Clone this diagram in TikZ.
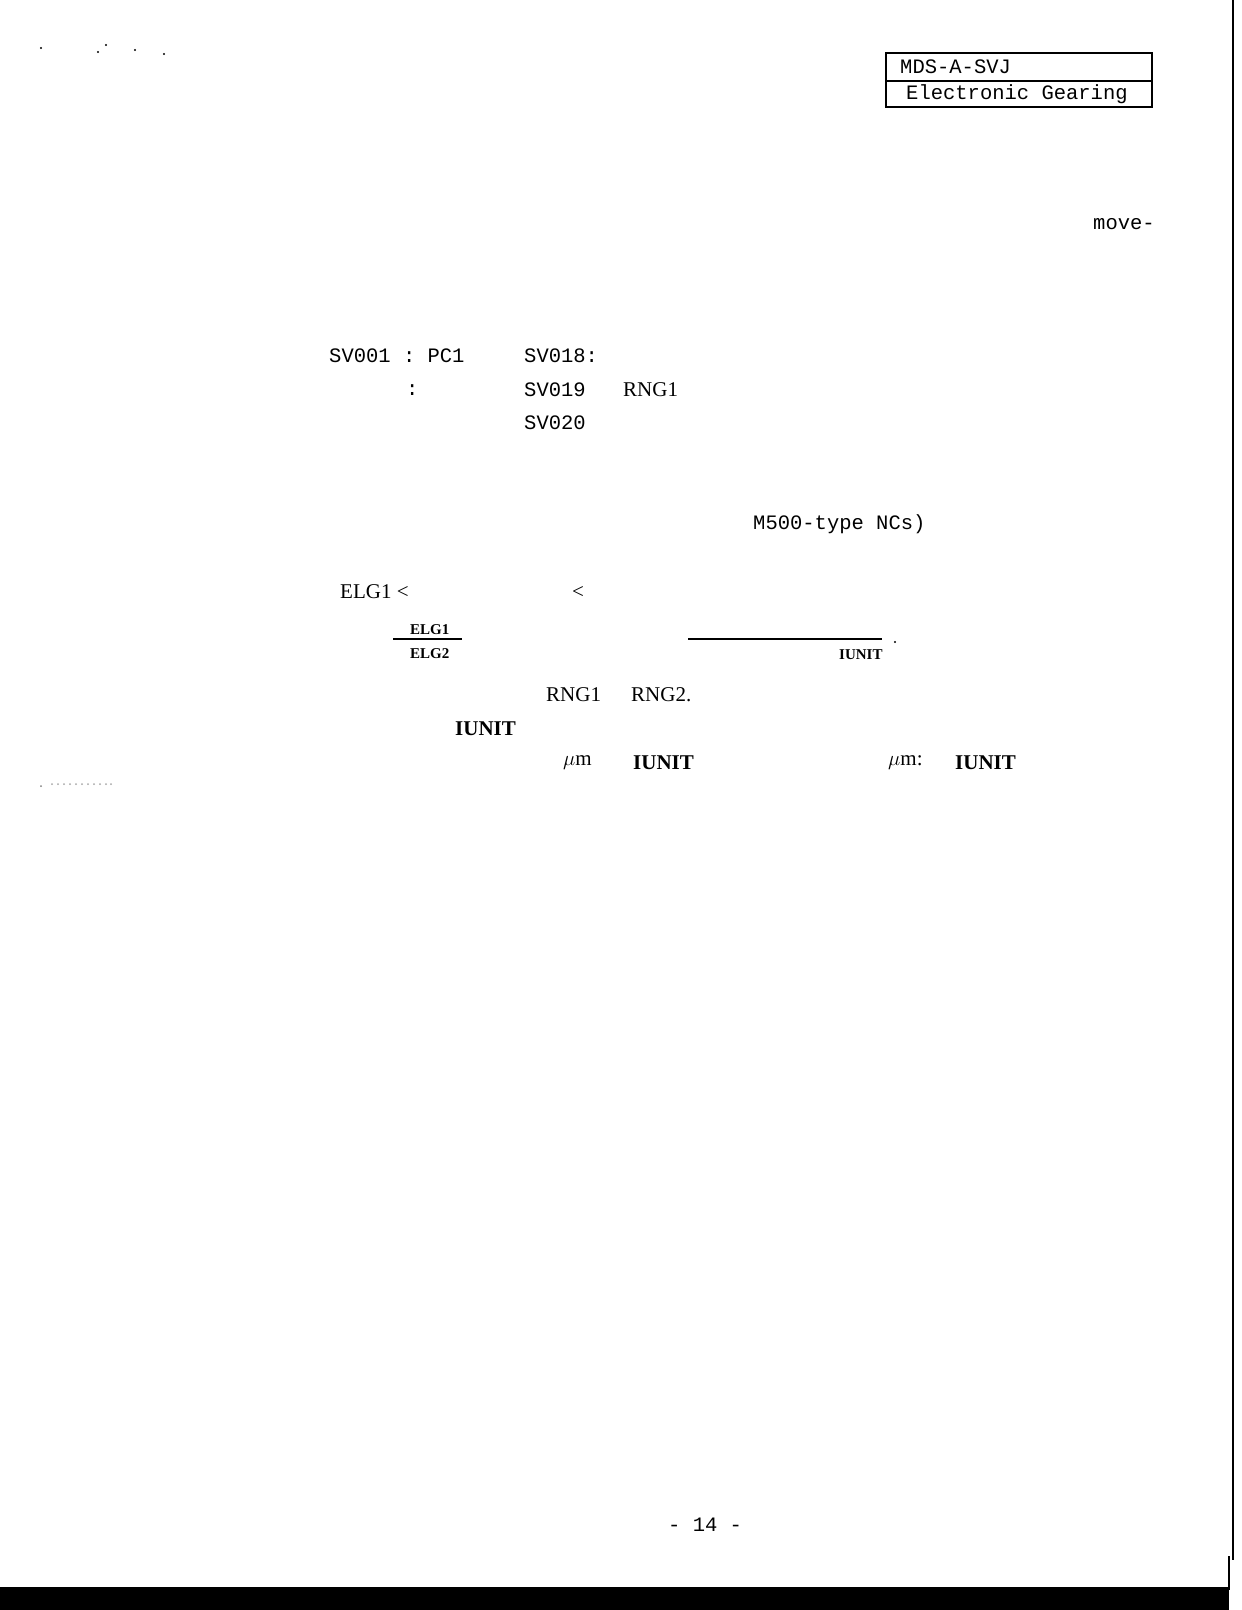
\documentclass[tikz,border=0pt]{standalone}
\usepackage{fontspec}
\setmainfont{Liberation Serif}
\setmonofont{Liberation Mono}
\begin{document}
\begin{tikzpicture}[x=1pt,y=-1pt,
  mono/.style={anchor=west,inner sep=0pt,font=\fontsize{20.5}{24}\ttfamily},
  ser/.style={anchor=west,inner sep=0pt,font=\fontsize{21}{24}\selectfont},
  serb/.style={anchor=west,inner sep=0pt,font=\fontsize{21}{24}\bfseries},
  small/.style={anchor=west,inner sep=0pt,font=\fontsize{15}{18}\bfseries}]
\useasboundingbox (0,0) rectangle (1242,1610);
\fill[white] (0,0) rectangle (1242,1610);
% header box
\draw[line width=1.3pt] (886,53) rectangle (1152,107);
\draw[line width=1.3pt] (886,81) -- (1152,81);
\node[mono] (h1) at (900,67) {MDS-A-SVJ};
\node[mono] (h2) at (906,94) {Electronic Gearing};
\node[mono] (mv) at (1093,224) {move-};
% parameters
\node[mono] (a1) at (329,356) {SV001 : PC1};
\node[mono] (a2) at (524,356) {SV018:};
\node[mono] (a3) at (406,390) {:};
\node[mono] (a4) at (524,390) {SV019};
\node[ser] (a5) at (623,390) {RNG1};
\node[mono] (a6) at (524,423) {SV020};
\node[mono] (m5) at (753,524) {M500-type NCs)};
% formulas
\node[ser] (e1) at (340,592) {ELG1 <};
\node[ser] (e2) at (572,592) {<};
\node[small] (f1) at (410,630) {ELG1};
\draw[line width=1.3pt] (393,639) -- (462,639);
\node[small] (f2) at (410,654) {ELG2};
\draw[line width=1.3pt] (688,639) -- (882,639);
\node[small] (f3) at (839,655) {IUNIT};
\fill (895,642) circle (1.2);
\node[ser] (r1) at (546,695) {RNG1};
\node[ser] (r2) at (631,695) {RNG2.};
\node[serb] (i1) at (455,729) {IUNIT};
\node[ser] (u1) at (563,763) {$\mu$m};
\node[serb] (i2) at (633,763) {IUNIT};
\node[ser] (u2) at (888,763) {$\mu$m:};
\node[serb] (i3) at (955,763) {IUNIT};
\node[mono] (pg) at (668,1525) {- 14 -};
% page edges
\draw[line width=2pt] (1233,0) -- (1233,1560);
\draw[line width=1.5pt] (1229,1556) -- (1229,1590);
\fill (0,1587) rectangle (1229,1610);
% specks
\foreach \p in {(41,48),(98,52),(106,45),(135,50),(164,54)} \fill \p circle (1.2);
\fill[gray] (41,786) circle (1);
\foreach \q in {52,58,64,70,76,82,88,94,100,106,111} \fill[gray!70] (\q,784) circle (1);
\end{tikzpicture}
\end{document}
